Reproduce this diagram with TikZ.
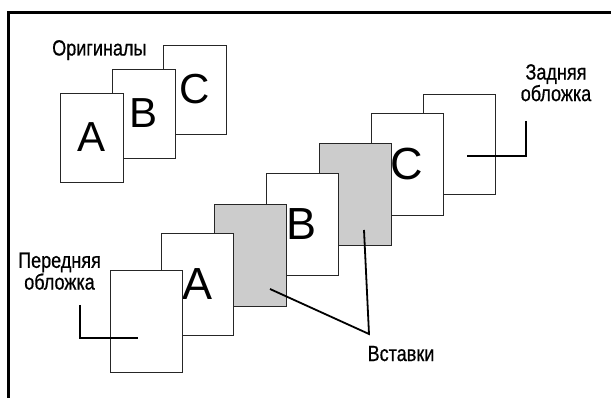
\documentclass[tikz,border=0pt]{standalone}
\usepackage{fontspec}
\setmainfont{Liberation Sans}
\newfontfamily\lblfont[FakeStretch=0.82,FakeBold=0.6]{Liberation Sans}
\begin{document}
\begin{tikzpicture}[x=1pt,y=-1pt,
  page/.style={draw=black!85, line width=0.9pt, fill=white, minimum width=72pt, minimum height=102pt, inner sep=0pt, font=\fontsize{45}{45}\selectfont},
  orig/.style={page, minimum width=63pt, minimum height=89pt, font=\fontsize{42}{42}\selectfont},
  insertpage/.style={page, fill=black!20},
  lbl/.style={font=\lblfont\fontsize{22}{18.5}\selectfont, inner sep=0pt, align=center},
  leader/.style={line width=1.8pt},
  framestyle/.style={line width=3pt}]
\useasboundingbox (0,0) rectangle (611,398);
% frame
\draw[framestyle] (8.5,398) -- (8.5,12.5) -- (611,12.5);
% originals
\node[orig] (oc) at (194.5,89.5) {C};
\node[orig] (ob) at (143.5,113.5) {B};
\node[orig] (oa) at (91.5,137.5) {A};
\node[lbl, anchor=base west] (orig) at (52,55.5) {Оригиналы};
% assembled set
\node[page, minimum height=100pt] (back) at (459,144) {};
\node[page] (pc) at (407,164) {C};
\node[insertpage] (g2) at (355,194) {};
\node[page] (pb) at (302,224) {B};
\node[insertpage] (g1) at (250,255.5) {};
\node[page] (pa) at (197.5,284) {A};
\node[page] (front) at (146,321) {};
% labels
\node[lbl, anchor=north] (zad) at (556,64) {Задняя\\обложка};
\node[lbl, anchor=north] (per) at (59.5,252.5) {Передняя\\обложка};
\node[lbl, anchor=base] (vst) at (401,361) {Вставки};
% leaders
\coordinate (bk1) at (526,121);
\coordinate (bk2) at (526,156);
\coordinate (bk3) at (467,156);
\coordinate (fr1) at (80,305);
\coordinate (fr2) at (80,338);
\coordinate (fr3) at (138,338);
\coordinate (v1) at (270,289);
\coordinate (v2) at (364,230);
\coordinate (vt) at (369,334);
\draw[leader] (bk1) -- (bk2) -- (bk3);
\draw[leader] (fr1) -- (fr2) -- (fr3);
\draw[leader] (v1) -- (vt) -- (v2);
\end{tikzpicture}
\end{document}
